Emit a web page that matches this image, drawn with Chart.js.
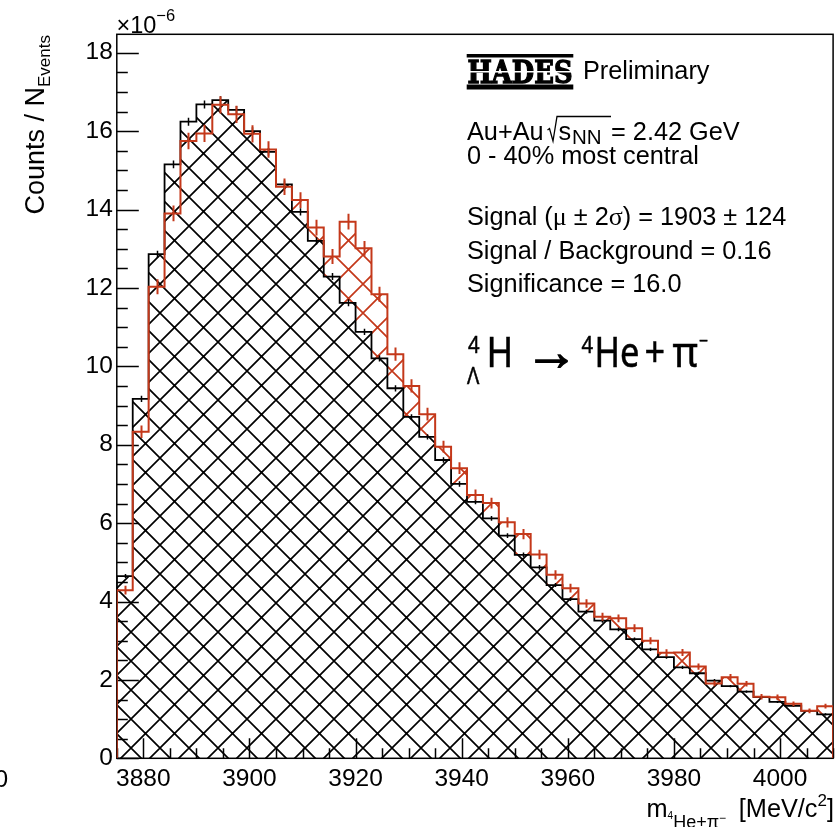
<!DOCTYPE html>
<html>
<head>
<meta charset="utf-8">
<script src="https://cdn.jsdelivr.net/npm/chart.js@4.4.1/dist/chart.umd.min.js"></script>
<style>
  html, body { margin: 0; padding: 0; background: #fff; }
  canvas { display: block; }
</style>
</head>
<body>
<canvas id="c" width="837" height="827" style="width:837px;height:827px"></canvas>
<script>
// 4He + pi- invariant mass, 3 MeV/c^2 bins; counts per event in units of 1e-6
const binLow = [3875, 3878, 3881, 3884, 3887, 3890, 3893, 3896, 3899, 3902,
                3905, 3908, 3911, 3914, 3917, 3920, 3923, 3926, 3929, 3932,
                3935, 3938, 3941, 3944, 3947, 3950, 3953, 3956, 3959, 3962,
                3965, 3968, 3971, 3974, 3977, 3980, 3983, 3986, 3989, 3992,
                3995, 3998, 4001, 4004, 4007];
const binHighEdge = 4010;

// mixed-event background (black, hatched)
const background = [4.65, 9.17, 12.86, 15.15, 16.24, 16.68, 16.79, 16.54, 16.00, 15.47,
                    14.64, 13.94, 13.20, 12.29, 11.62, 10.88, 10.20, 9.44, 8.71, 8.20,
                    7.61, 7.00, 6.54, 6.12, 5.68, 5.19, 4.87, 4.42, 4.06, 3.74,
                    3.51, 3.29, 3.04, 2.78, 2.58, 2.32, 2.17, 1.98, 1.84, 1.70,
                    1.56, 1.44, 1.34, 1.21, 1.12];
const backgroundErr = [0.05, 0.08, 0.09, 0.10, 0.10, 0.10, 0.10, 0.10, 0.10, 0.10,
                       0.10, 0.09, 0.09, 0.09, 0.09, 0.08, 0.08, 0.08, 0.07, 0.07,
                       0.07, 0.07, 0.06, 0.06, 0.06, 0.06, 0.06, 0.05, 0.05, 0.05,
                       0.05, 0.05, 0.04, 0.04, 0.04, 0.04, 0.04, 0.04, 0.03, 0.03,
                       0.03, 0.03, 0.03, 0.03, 0.03];

// same-event spectrum (red)
const sameEvent = [4.29, 8.33, 12.03, 13.90, 15.75, 15.94, 16.67, 16.43, 15.93, 15.53,
                   14.58, 14.24, 13.54, 12.80, 13.69, 13.01, 11.84, 10.31, 9.50, 8.78,
                   7.95, 7.40, 6.72, 6.51, 6.02, 5.72, 5.20, 4.68, 4.34, 3.95,
                   3.61, 3.57, 3.32, 3.00, 2.69, 2.70, 2.34, 1.91, 2.07, 1.90,
                   1.57, 1.56, 1.39, 1.21, 1.33];
const sameEventErr = [0.11, 0.16, 0.19, 0.20, 0.21, 0.22, 0.22, 0.22, 0.22, 0.21,
                      0.21, 0.20, 0.20, 0.19, 0.20, 0.19, 0.19, 0.17, 0.17, 0.16,
                      0.15, 0.15, 0.14, 0.14, 0.13, 0.13, 0.12, 0.12, 0.11, 0.11,
                      0.10, 0.10, 0.10, 0.09, 0.09, 0.09, 0.08, 0.07, 0.08, 0.07,
                      0.07, 0.07, 0.06, 0.06, 0.06];

const xRange = [3875, 4010];
const yRange = [0, 18.47];
const xMajor = 20, xMinor = 5;
const yMajor = 2, yMinor = 0.5;

const RED = '#c4381a';
const SANS = "'Liberation Sans', Arial, sans-serif";

// histogram outline as a stepped polyline: rise at the first edge, drop at the last
function stepPoints(vals) {
  const pts = [{ x: binLow[0], y: 0 }];
  vals.forEach((v, i) => pts.push({ x: binLow[i], y: v }));
  pts.push({ x: binHighEdge, y: vals[vals.length - 1] });
  pts.push({ x: binHighEdge, y: 0 });
  return pts;
}

// cross-hatch fill tile, anchored to the canvas so both fills share the grid
function hatch(color, bg) {
  const P = 29, C1 = 9, C2 = 21;
  const c = document.createElement('canvas');
  c.width = P; c.height = P;
  const g = c.getContext('2d');
  if (bg) { g.fillStyle = bg; g.fillRect(0, 0, P, P); }
  g.strokeStyle = color;
  g.lineWidth = 1.7;
  g.beginPath();
  for (let k = -2; k <= 2; k++) {
    const a = C1 + k * P;
    g.moveTo(a + P, -P); g.lineTo(a - 2 * P, 2 * P);
    const b = C2 + k * P;
    g.moveTo(b - P, -P); g.lineTo(b + 2 * P, 2 * P);
  }
  g.stroke();
  return g.createPattern(c, 'repeat');
}

function runs(ctx, x, y, list) {
  for (const r of list) {
    ctx.font = r.f;
    if (r.x !== undefined) x = r.x;
    const w = ctx.measureText(r.t).width;
    ctx.save();
    ctx.translate(x, y + (r.dy || 0));
    if (r.sx) ctx.scale(r.sx, 1);
    ctx.fillText(r.t, 0, 0);
    if (r.bold) { ctx.strokeStyle = ctx.fillStyle; ctx.lineWidth = r.bold; ctx.strokeText(r.t, 0, 0); }
    ctx.restore();
    x += w * (r.sx || 1);
  }
  return x;
}
function runsWidth(ctx, list) {
  let w = 0;
  for (const r of list) { ctx.font = r.f; w += ctx.measureText(r.t).width * (r.sx || 1); }
  return w;
}

function drawFrame(chart) {
  const { ctx, chartArea: a, scales: { x, y } } = chart;
  ctx.save();
  ctx.strokeStyle = '#000';
  ctx.lineWidth = 1.5;
  ctx.strokeRect(a.left, a.top, a.right - a.left, a.bottom - a.top);
  ctx.beginPath();
  for (let v = yRange[0]; v <= yRange[1] + 1e-9; v += yMinor) {
    const py = Math.round(y.getPixelForValue(v)) + 0.5;
    const major = Math.abs(v / yMajor - Math.round(v / yMajor)) < 1e-6;
    ctx.moveTo(a.left, py);
    ctx.lineTo(a.left + (major ? 22 : 11), py);
  }
  for (let v = Math.ceil(xRange[0] / xMinor) * xMinor; v <= xRange[1]; v += xMinor) {
    const px = Math.round(x.getPixelForValue(v)) + 0.5;
    const major = v % xMajor === 0;
    ctx.moveTo(px, a.bottom);
    ctx.lineTo(px, a.bottom - (major ? 20 : 10));
  }
  ctx.stroke();
  ctx.restore();
}

function drawErrors(chart) {
  const { ctx, chartArea: a, scales: { x, y } } = chart;
  ctx.save();
  ctx.beginPath();
  ctx.rect(a.left, a.top, a.right - a.left, a.bottom - a.top);
  ctx.clip();
  const sets = [
    { v: background, e: backgroundErr, c: '#000', w: 1.5 },
    { v: sameEvent, e: sameEventErr, c: RED, w: 2 }
  ];
  for (const s of sets) {
    ctx.strokeStyle = s.c;
    ctx.lineWidth = s.w;
    ctx.beginPath();
    s.v.forEach((v, i) => {
      const hi = i + 1 < binLow.length ? binLow[i + 1] : binHighEdge;
      const px = Math.round(x.getPixelForValue((binLow[i] + hi) / 2)) + 0.5;
      ctx.moveTo(px, y.getPixelForValue(v - s.e[i]));
      ctx.lineTo(px, y.getPixelForValue(v + s.e[i]));
    });
    ctx.stroke();
  }
  ctx.restore();
}

function drawTexts(chart) {
  const ctx = chart.ctx;
  ctx.save();
  ctx.fillStyle = '#000';
  ctx.textBaseline = 'alphabetic';
  ctx.textAlign = 'left';
  const F = (s) => s + 'px ' + SANS;

  // axis exponent
  runs(ctx, 116.5, 32.5, [{ t: '\u00d710', f: F(23.5) }, { t: '\u22126', f: F(16.5), dy: -12 }]);

  // y title, rotated, ending at the top of the axis
  ctx.save();
  ctx.translate(44, 35);
  ctx.rotate(-Math.PI / 2);
  const yt = [{ t: 'Counts / N', f: F(27) }, { t: 'Events', f: F(17), dy: 6 }];
  runs(ctx, -runsWidth(ctx, yt), 0, yt);
  ctx.restore();

  // x title
  runs(ctx, 646.5, 816.5, [
    { t: 'm', f: F(25.3) },
    { t: '4', f: F(10), dy: 2.5 },
    { t: 'He+\u03c0', f: F(18), dy: 11.5 },
    { t: '\u2212', f: F(12), dy: 5 }
  ]);
  const xt = [{ t: '[MeV/c', f: F(25.3) }, { t: '2', f: F(17), dy: -11 }, { t: ']', f: F(25.3) }];
  runs(ctx, 834 - runsWidth(ctx, xt), 816.5, xt);

  // clipped label at the left edge
  ctx.font = F(24.5);
  ctx.fillText('0', -5.5, 787);

  // HADES logo
  ctx.fillRect(466.7, 54, 106.6, 3.5);
  ctx.fillRect(466.7, 84.5, 106.6, 5);
  ctx.font = "bold 32px 'DejaVu Serif', serif";
  const lw = ctx.measureText('HADES').width;
  ctx.save();
  ctx.translate(467.5, 82.7);
  ctx.scale(105 / lw, 1);
  ctx.strokeStyle = '#000';
  ctx.lineWidth = 1.4;
  ctx.fillText('HADES', 0, 0);
  ctx.strokeText('HADES', 0, 0);
  ctx.restore();
  ctx.fillStyle = '#fff';
  ctx.fillRect(466.7, 71, 106.6, 1.5);
  ctx.fillStyle = '#000';

  runs(ctx, 583, 79, [{ t: 'Preliminary', f: F(25.3) }]);

  // collision system line with a drawn radical over s_NN
  runs(ctx, 467, 140, [{ t: 'Au+Au', f: F(25.3) }]);
  ctx.save();
  ctx.strokeStyle = '#000';
  ctx.lineWidth = 1.3;
  ctx.beginPath();
  ctx.moveTo(547.5, 130); ctx.lineTo(549.5, 128.5); ctx.lineTo(553, 141);
  ctx.lineTo(557, 116.5); ctx.lineTo(611, 116.5);
  ctx.stroke();
  ctx.restore();
  runs(ctx, 558.5, 140, [{ t: 's', f: F(25.3) }]);
  runs(ctx, 572, 144, [{ t: 'NN', f: F(20.5) }]);
  runs(ctx, 604, 140, [{ t: ' = 2.42 GeV', f: F(25.3) }]);

  runs(ctx, 467, 164, [{ t: '0 - 40% most central', f: F(25.3) }]);

  const SER = (s) => s + "px 'Liberation Serif', serif";
  runs(ctx, 467, 225, [
    { t: 'Signal (', f: F(25.3) },
    { t: '\u03bc', f: SER(26) },
    { t: ' \u00b1 2', f: F(25.3) },
    { t: '\u03c3', f: SER(26) },
    { t: ') = 1903 \u00b1 124', f: F(25.3) }
  ]);
  runs(ctx, 467, 259, [{ t: 'Signal / Background = 0.16', f: F(25.3) }]);
  runs(ctx, 467, 292.3, [{ t: 'Significance = 16.0', f: F(25.3) }]);

  // decay channel
  const NS = (s) => s + "px 'Noto Sans', 'DejaVu Sans', sans-serif";
  const sx = 0.88, b = 0.5;
  runs(ctx, 0, 353, [{ t: '4', f: NS(23), x: 468, sx, bold: b }]);
  runs(ctx, 0, 384, [{ t: '\u039b', f: NS(23), x: 467, sx, bold: b }]);
  runs(ctx, 0, 366.7, [{ t: 'H', f: NS(41), x: 486.5, sx, bold: b }]);
  runs(ctx, 0, 369.5, [{ t: '\u2192', f: "53px 'Liberation Sans', 'DejaVu Sans', sans-serif", x: 525, sx: 1.0, bold: 1.4 }]);
  runs(ctx, 0, 353, [{ t: '4', f: NS(23), x: 581.5, sx, bold: b }]);
  runs(ctx, 0, 366.7, [{ t: 'He', f: NS(41), x: 594.5, sx: 0.84, bold: b }]);
  runs(ctx, 0, 366.7, [{ t: '+', f: NS(41), x: 644.5, sx, bold: b }]);
  runs(ctx, 0, 366.7, [{ t: '\u03c0', f: NS(41), x: 672.5, sx: 0.95, bold: b }]);
  runs(ctx, 0, 347, [{ t: '\u2212', f: NS(18), x: 699, sx, bold: b }]);

  ctx.restore();
}

const decor = {
  id: 'decor',
  beforeDatasetDraw(chart, args) { if (args.index === 0) drawFrame(chart); },
  afterDatasetsDraw(chart) { drawErrors(chart); },
  afterDraw(chart) { drawTexts(chart); }
};

const tickFont = { family: SANS, size: 24.5 };

new Chart(document.getElementById('c'), {
  type: 'line',
  data: {
    datasets: [
      { label: 'same event', data: stepPoints(sameEvent), stepped: 'before',
        borderColor: RED, borderWidth: 2, fill: false,
        pointRadius: 0, pointHitRadius: 0 },
      { label: 'mixed-event background', data: stepPoints(background), stepped: 'before',
        borderColor: '#000', borderWidth: 1.8, fill: 'origin',
        backgroundColor: hatch('#000', '#fff'),
        pointRadius: 0, pointHitRadius: 0 },
      { label: 'same event fill', data: stepPoints(sameEvent), stepped: 'before',
        borderColor: 'rgba(0,0,0,0)', borderWidth: 0, fill: 'origin',
        backgroundColor: hatch(RED, null),
        pointRadius: 0, pointHitRadius: 0 }
    ]
  },
  options: {
    responsive: false,
    animation: false,
    devicePixelRatio: 1,
    layout: { padding: { top: 34.3, right: 3.9, left: 0, bottom: 0 } },
    plugins: { legend: { display: false }, tooltip: { enabled: false } },
    scales: {
      x: {
        type: 'linear', min: xRange[0], max: xRange[1],
        grid: { display: false, drawTicks: false }, border: { display: false },
        ticks: { stepSize: xMajor, includeBounds: false, padding: 6, color: '#000',
                 font: tickFont, maxRotation: 0, autoSkip: false,
                 callback: (v) => String(v) },
        afterFit: (s) => { s.height = 68.7; }
      },
      y: {
        type: 'linear', min: yRange[0], max: yRange[1],
        grid: { display: false, drawTicks: false }, border: { display: false },
        ticks: { stepSize: yMajor, includeBounds: false, padding: 4, color: '#000',
                 font: tickFont, callback: (v) => String(v) },
        afterFit: (s) => { s.width = 116.8; }
      }
    }
  },
  plugins: [decor]
});
</script>
</body>
</html>
